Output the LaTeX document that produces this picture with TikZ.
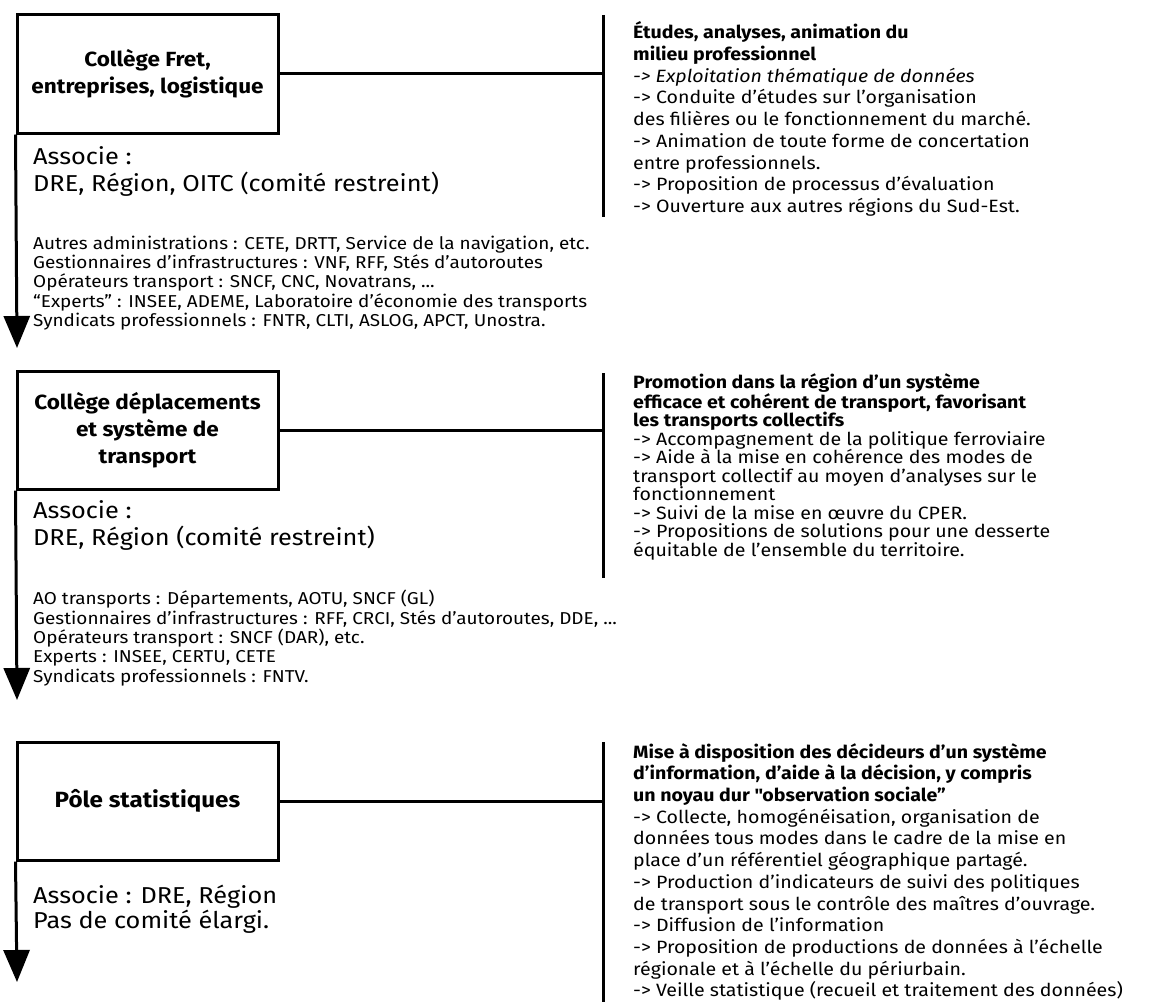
\documentclass[tikz,border=0pt]{standalone}
\usepackage{fontspec}
\setmainfont{Fira Sans}[FakeStretch=1.1]
\usepackage{tikz}
\usetikzlibrary{positioning,arrows.meta,calc}

\begin{document}
\begin{tikzpicture}[x=1pt, y=-1pt]
\tikzset{
  college/.style={rectangle, draw=black, line width=3pt, minimum width=261pt, minimum height=118pt,
    align=center, font=\fontsize{20.5}{27}\selectfont\bfseries},
  assoc/.style={anchor=west, align=left, inner sep=0pt, font=\fontsize{23}{27}\selectfont},
  members/.style={anchor=west, align=left, inner sep=0pt, font=\fontsize{17.2}{19.3}\selectfont},
  missions/.style={anchor=west, align=left, inner sep=0pt, font=\fontsize{17.8}{21.7}\selectfont},
  bar/.style={line width=3pt},
  link/.style={line width=3pt},
  flow/.style={line width=3pt, -{Triangle[length=32pt, width=26pt]}}
}
\useasboundingbox (0,0) rectangle (1150,1006);
\node[college] (fret) at (147.5,74) {Collège Fret,\\entreprises, logistique};
\node[college] (depl) at (147.5,430) {Collège déplacements\\et système de\\transport};
\node[college, font=\fontsize{22}{27}\selectfont\bfseries] (stat) at (147.5,801) {Pôle statistiques};
\node[assoc] (fretassoc) at (33,171) {Associe :\\DRE, Région, OITC (comité restreint)};
\node[assoc] (deplassoc) at (33,525) {Associe :\\DRE, Région (comité restreint)};
\node[assoc, font=\fontsize{23}{24.5}\selectfont] (statassoc) at (33,909) {Associe : DRE, Région\\Pas de comité élargi.};
\node[members] (fretmembers) at (33,283) {Autres administrations : CETE, DRTT, Service de la navigation, etc.\\
  Gestionnaires d’infrastructures : VNF, RFF, Stés d’autoroutes\\
  Opérateurs transport : SNCF, CNC, Novatrans, ...\\
  “Experts” : INSEE, ADEME, Laboratoire d’économie des transports\\
  Syndicats professionnels : FNTR, CLTI, ASLOG, APCT, Unostra.};
\node[members] (deplmembers) at (33,638) {AO transports : Départements, AOTU, SNCF (GL)\\
  Gestionnaires d’infrastructures : RFF, CRCI, Stés d’autoroutes, DDE, ...\\
  Opérateurs transport : SNCF (DAR), etc.\\
  Experts : INSEE, CERTU, CETE\\
  Syndicats professionnels : FNTV.};
\node[missions] (fretmissions) at (633,119) {\textbf{Études, analyses, animation du}\\
  \textbf{milieu professionnel}\\
  \textit{-> Exploitation thématique de données}\\
  -> Conduite d’études sur l’organisation\\
  des filières ou le fonctionnement du marché.\\
  -> Animation de toute forme de concertation\\
  entre professionnels.\\
  -> Proposition de processus d’évaluation\\
  -> Ouverture aux autres régions du Sud-Est.};
\node[missions, font=\fontsize{17.8}{18.5}\selectfont] (deplmissions) at (633,467) {\textbf{Promotion dans la région d’un système}\\
  \textbf{efficace et cohérent de transport, favorisant}\\
  \textbf{les transports collectifs}\\
  -> Accompagnement de la politique ferroviaire\\
  -> Aide à la mise en cohérence des modes de\\
  transport collectif au moyen d’analyses sur le\\
  fonctionnement\\
  -> Suivi de la mise en œuvre du CPER.\\
  -> Propositions de solutions pour une desserte\\
  équitable de l’ensemble du territoire.};
\node[missions] (statmissions) at (633,872) {\textbf{Mise à disposition des décideurs d’un système}\\
  \textbf{d’information, d’aide à la décision, y compris}\\
  \textbf{un noyau dur \textquotedbl observation sociale”}\\
  -> Collecte, homogénéisation, organisation de\\
  données tous modes dans le cadre de la mise en\\
  place d’un référentiel géographique partagé.\\
  -> Production d’indicateurs de suivi des politiques\\
  de transport sous le contrôle des maîtres d’ouvrage.\\
  -> Diffusion de l’information\\
  -> Proposition de productions de données à l’échelle\\
  régionale et à l’échelle du périurbain.\\
  -> Veille statistique (recueil et traitement des données)};
\coordinate (fretbartop) at (603,15);
\coordinate (fretbarbot) at (603,217);
\coordinate (deplbartop) at (603,373);
\coordinate (deplbarbot) at (603,578);
\coordinate (statbartop) at (603,742);
\coordinate (statbarbot) at (603,1002);
\coordinate (fretend) at (17,348);
\coordinate (deplend) at (17,700);
\coordinate (statend) at (17,982);
\draw[bar] (fretbartop) -- (fretbarbot);
\draw[bar] (deplbartop) -- (deplbarbot);
\draw[bar] (statbartop) -- (statbarbot);
\draw[link] (fret.east) -- (fret.east -| fretbartop);
\draw[link] (depl.east) -- (depl.east -| deplbartop);
\draw[link] (stat.east) -- (stat.east -| statbartop);
\draw[flow] (fret.south west) -- (fretend);
\draw[flow] (depl.south west) -- (deplend);
\draw[flow] (stat.south west) -- (statend);
\end{tikzpicture}
\end{document}
